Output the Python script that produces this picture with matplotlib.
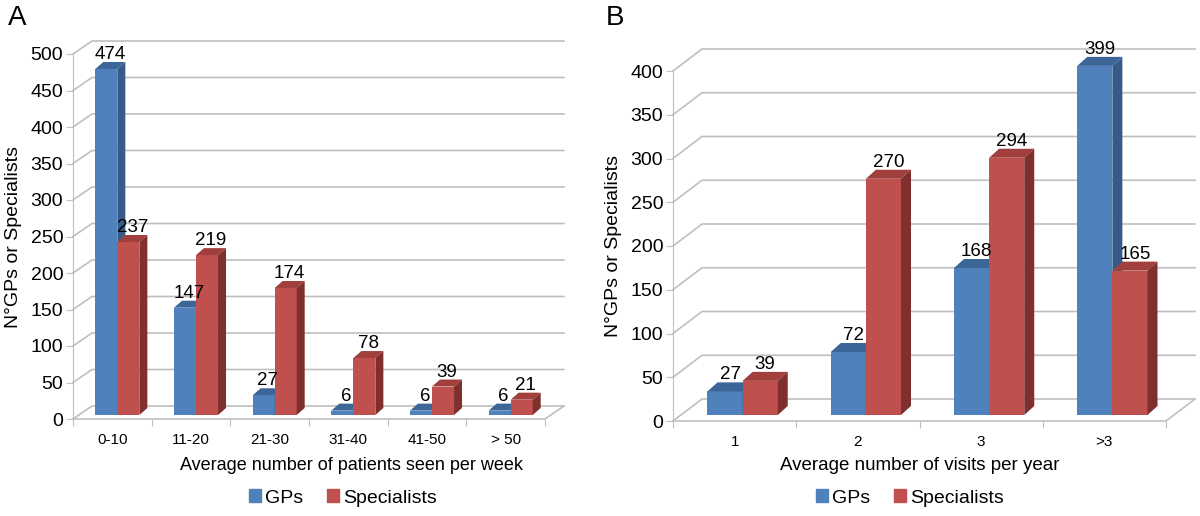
import numpy as np
import matplotlib.pyplot as plt
from matplotlib.patches import Polygon, Patch

plt.rcParams['font.family'] = ['Liberation Sans', 'DejaVu Sans']

# panel A data
cats_a = ['0-10', '11-20', '21-30', '31-40', '41-50', '> 50']
gps_a = [474, 147, 27, 6, 6, 6]
spec_a = [237, 219, 174, 78, 39, 21]

# panel B data
cats_b = ['1', '2', '3', '>3']
gps_b = [27, 72, 168, 399]
spec_b = [39, 270, 294, 165]

BLUE = ('#4F81BD', '#3C6697', '#375B88')   # front, top, side
RED = ('#C0504D', '#A03F3C', '#7F302E')
GRID = '#BFBFBF'

W, H = 1200, 516
fig = plt.figure(figsize=(W / 100, H / 100), dpi=100)


def px_axes(x0, x1, y_bottom, y_top):
    # pixel box (from top-left) -> figure fraction
    return fig.add_axes([x0 / W, (H - y_bottom) / H, (x1 - x0) / W, (y_bottom - y_top) / H])


def draw_panel(ax, cats, gps, spec, ymax, step, box, wall, front, depth, barw):
    n = len(cats)
    x0, x1, yb, yt = box
    ux = n / (x1 - x0)          # data units per pixel
    uy = ymax / (yb - yt)
    Dx, Dy = wall[0] * ux, wall[1] * uy
    fx, fy = front[0] * ux, front[1] * uy
    dx, dy = depth[0] * ux, depth[1] * uy

    ax.set_xlim(0, n)
    ax.set_ylim(0, ymax)
    for s in ['top', 'right', 'bottom']:
        ax.spines[s].set_visible(False)
    ax.spines['left'].set_color(GRID)

    # walls and floor
    for v in np.arange(0, ymax + 1, step):
        ax.plot([0, Dx, n + Dx], [v, v + Dy, v + Dy], color=GRID, lw=1.2,
                clip_on=False, zorder=1)
    ax.plot([0, n, n + Dx], [0, 0, Dy], color=GRID, lw=1.2, clip_on=False, zorder=1)

    ax.set_yticks(np.arange(0, ymax + 1, step))
    ax.tick_params(axis='y', length=5, color=GRID, labelsize=14, pad=2)
    ax.set_xticks(np.arange(n + 1))
    ax.set_xticklabels([])
    ax.tick_params(axis='x', length=5, color=GRID)
    ax.set_xticks(np.arange(n) + 0.5, minor=True)
    ax.set_xticklabels(cats, minor=True)
    ax.tick_params(axis='x', which='minor', length=0, labelsize=11, pad=10)

    xs = np.arange(n) + 0.5
    for k, (vals, cols) in enumerate([(gps, BLUE), (spec, RED)]):
        left = xs - barw + k * barw + fx
        bars = ax.bar(left, vals, width=barw, bottom=fy, align='edge',
                      color=cols[0], lw=0, zorder=3 + k, clip_on=False)
        for b, v in zip(bars, vals):
            bx, by = b.get_x(), b.get_y()
            top = by + b.get_height()
            ax.add_patch(Polygon([(bx, top), (bx + barw, top), (bx + barw + dx, top + dy),
                                  (bx + dx, top + dy)], closed=True, color=cols[1],
                                 lw=0, zorder=3 + k, clip_on=False))
            ax.add_patch(Polygon([(bx + barw, by), (bx + barw, top),
                                  (bx + barw + dx, top + dy), (bx + barw + dx, by + dy)],
                                 closed=True, color=cols[2], lw=0, zorder=3 + k,
                                 clip_on=False))
            ax.text(bx + (barw + dx) / 2, top + dy - 1 * uy, str(v), ha='center',
                    va='bottom', fontsize=13.5, zorder=6)


ax_a = px_axes(73, 545, 419, 54)
draw_panel(ax_a, cats_a, gps_a, spec_a, 500, 50, (73, 545, 419, 54),
           wall=(19, 13), front=(5, 4), depth=(8, 7), barw=0.28)
ax_a.set_ylabel('N°GPs or Specialists', fontsize=14, labelpad=6)
fig.text(351 / W, 1 - 465 / H, 'Average number of patients seen per week',
         fontsize=13, ha='center', va='center')

ax_b = px_axes(673, 1166, 421, 71)
draw_panel(ax_b, cats_b, gps_b, spec_b, 400, 50, (673, 1166, 421, 71),
           wall=(29, 22), front=(8, 6), depth=(10, 9), barw=0.285)
ax_b.set_ylabel('N°GPs or Specialists', fontsize=14, labelpad=6)
fig.text(920 / W, 1 - 465 / H, 'Average number of visits per year',
         fontsize=13.5, ha='center', va='center')

handles = [Patch(color=BLUE[0], label='GPs'), Patch(color=RED[0], label='Specialists')]
for cx in (343 / W, 910 / W):
    fig.legend(handles=handles, loc='center', bbox_to_anchor=(cx, (H - 498) / H), ncol=2,
               frameon=False, fontsize=14, handlelength=0.6, handleheight=0.6,
               handletextpad=0.25, columnspacing=1.2)

fig.text(8 / W, 1 - 18 / H, 'A', fontsize=20, va='center')
fig.text(606 / W, 1 - 18 / H, 'B', fontsize=20, va='center')

fig.savefig('out.png', dpi=100)
